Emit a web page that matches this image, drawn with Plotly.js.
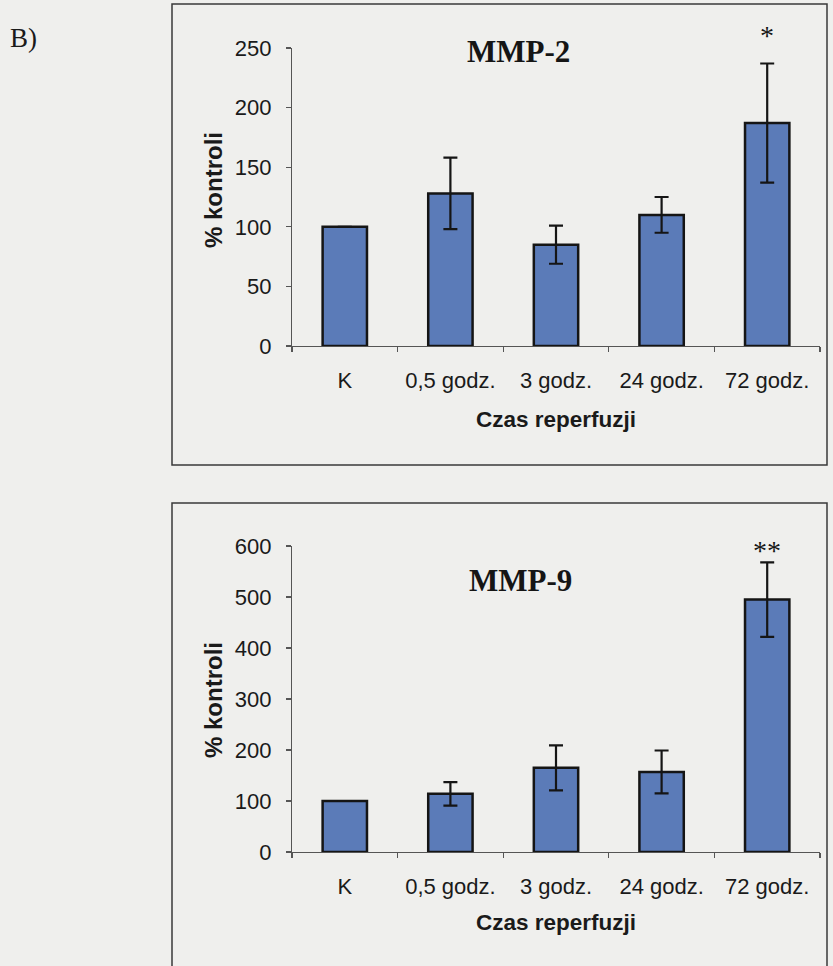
<!DOCTYPE html>
<html>
<head>
<meta charset="utf-8">
<script src="https://cdn.plot.ly/plotly-3.0.1.min.js"></script>
<style>html,body{margin:0;padding:0;background:#efefed;}#chart{width:833px;height:966px;}</style>
</head>
<body>
<div id="chart"></div>
<script>
// ---- data ----
const categories = ["K", "0,5 godz.", "3 godz.", "24 godz.", "72 godz."];
const mmp2Values = [100, 128, 85, 110, 187];
const mmp2Errors = [0, 30, 16, 15, 50];
const mmp9Values = [100, 114, 165, 157, 495];
const mmp9Errors = [0, 23, 44, 42, 73];
const mmp2Title = "MMP-2";
const mmp9Title = "MMP-9";
const mmp2Mark = "*";
const mmp9Mark = "**";
const yTitle = "% kontroli";
const xTitle = "Czas reperfuzji";
const panelLabel = "B)";

// ---- helpers ----
const W = 833, H = 966;
const px = x => x / W;
const py = y => 1 - y / H;
const barColor = "#5b7bb8";
const sans = "Liberation Sans, Arial, sans-serif";
const serif = "Liberation Serif, Times New Roman, serif";

function barTrace(vals, errs, xa, ya) {
  return {
    type: "bar", x: categories, y: vals, xaxis: xa, yaxis: ya,
    width: 0.42,
    marker: {color: barColor, line: {color: "#151515", width: 2.5}},
    error_y: {type: "data", array: errs, visible: true, color: "#151515", thickness: 2.2, width: 7},
    hoverinfo: "skip", showlegend: false
  };
}

const xDomain = [px(292), px(820)];
const axisCommon = {
  showgrid: false, zeroline: false, showline: true, linecolor: "#555", linewidth: 1.2,
  ticks: "outside", ticklen: 5, tickcolor: "#555", tickwidth: 1.2,
  tickfont: {family: sans, size: 22, color: "#1a1a1a"}, fixedrange: true
};

const layout = {
  width: W, height: H,
  margin: {l: 0, r: 0, t: 0, b: 0},
  paper_bgcolor: "#efefed", plot_bgcolor: "rgba(0,0,0,0)",
  bargap: 0.58,
  xaxis: Object.assign({}, axisCommon, {domain: xDomain, anchor: "y", type: "category", tickson: "boundaries", ticklabelstandoff: 14}),
  yaxis: Object.assign({}, axisCommon, {domain: [py(346), py(48)], anchor: "x", range: [0, 250], tickvals: [0, 50, 100, 150, 200, 250], ticklabelstandoff: 10}),
  xaxis2: Object.assign({}, axisCommon, {domain: xDomain, anchor: "y2", type: "category", tickson: "boundaries", ticklabelstandoff: 14}),
  yaxis2: Object.assign({}, axisCommon, {domain: [py(852), py(546)], anchor: "x2", range: [0, 600], tickvals: [0, 100, 200, 300, 400, 500, 600], ticklabelstandoff: 10}),
  shapes: [
    {type: "rect", xref: "paper", yref: "paper", x0: px(172), x1: px(827), y0: py(465), y1: py(4), line: {color: "#3a3a3a", width: 1.5}},
    {type: "rect", xref: "paper", yref: "paper", x0: px(172), x1: px(827), y0: -0.05, y1: py(503), line: {color: "#3a3a3a", width: 1.5}}
  ],
  annotations: [
    {text: panelLabel, xref: "paper", yref: "paper", x: px(8), y: py(38), xanchor: "left", yanchor: "middle", showarrow: false, font: {family: serif, size: 27, color: "#1a1a1a"}},
    {text: "<b>" + mmp2Title + "</b>", xref: "paper", yref: "paper", x: px(518), y: py(52), xanchor: "center", yanchor: "middle", showarrow: false, font: {family: serif, size: 31, color: "#151515"}},
    {text: "<b>" + mmp9Title + "</b>", xref: "paper", yref: "paper", x: px(520), y: py(580), xanchor: "center", yanchor: "middle", showarrow: false, font: {family: serif, size: 31, color: "#151515"}},
    {text: mmp2Mark, xref: "x", yref: "paper", x: categories[4], y: py(36), xanchor: "center", yanchor: "middle", showarrow: false, font: {family: serif, size: 28, color: "#151515"}},
    {text: mmp9Mark, xref: "x2", yref: "paper", x: categories[4], y: py(550), xanchor: "center", yanchor: "middle", showarrow: false, font: {family: serif, size: 28, color: "#151515"}},
    {text: "<b>" + yTitle + "</b>", xref: "paper", yref: "paper", x: px(213), y: py(190), textangle: -90, xanchor: "center", yanchor: "middle", showarrow: false, font: {family: sans, size: 24, color: "#1a1a1a"}},
    {text: "<b>" + yTitle + "</b>", xref: "paper", yref: "paper", x: px(213), y: py(700), textangle: -90, xanchor: "center", yanchor: "middle", showarrow: false, font: {family: sans, size: 24, color: "#1a1a1a"}},
    {text: "<b>" + xTitle + "</b>", xref: "paper", yref: "paper", x: px(556), y: py(420), xanchor: "center", yanchor: "middle", showarrow: false, font: {family: sans, size: 22.5, color: "#1a1a1a"}},
    {text: "<b>" + xTitle + "</b>", xref: "paper", yref: "paper", x: px(556), y: py(922), xanchor: "center", yanchor: "middle", showarrow: false, font: {family: sans, size: 22.5, color: "#1a1a1a"}}
  ]
};

Plotly.newPlot("chart", [
  barTrace(mmp2Values, mmp2Errors, "x", "y"),
  barTrace(mmp9Values, mmp9Errors, "x2", "y2")
], layout, {staticPlot: true, displayModeBar: false});
</script>
</body>
</html>
